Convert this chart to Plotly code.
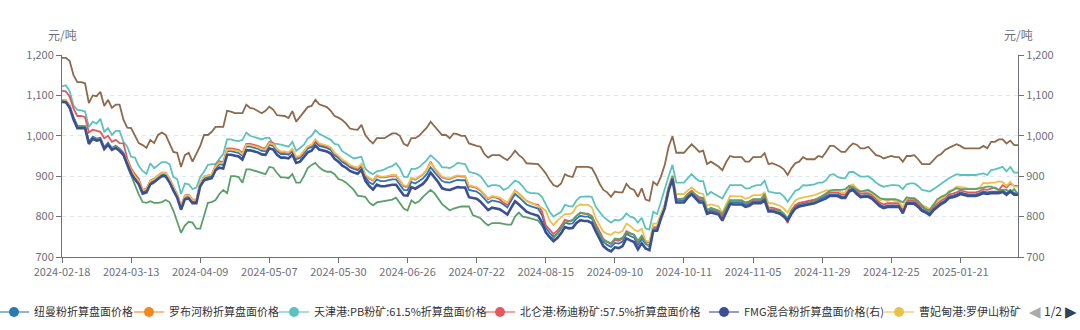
import pandas as pd
import plotly.graph_objects as go

# ---- calendar (Chinese working days incl. make-up days) ----
holidays = ["2024-04-04", "2024-04-05", "2024-05-01", "2024-05-02", "2024-05-03",
            "2024-06-10", "2024-09-16", "2024-09-17", "2024-10-01", "2024-10-02",
            "2024-10-03", "2024-10-04", "2024-10-07", "2025-01-01", "2025-01-28",
            "2025-01-29", "2025-01-30", "2025-01-31", "2025-02-03", "2025-02-04"]
makeup_days = ["2024-02-18", "2024-04-07", "2024-04-28", "2024-05-11", "2024-09-14",
               "2024-09-29", "2024-10-12", "2025-01-26", "2025-02-08"]
dates = []
for d in pd.date_range("2024-02-18", "2025-02-17"):
    s = d.strftime("%Y-%m-%d")
    if (d.weekday() < 5 and s not in holidays) or s in makeup_days:
        dates.append(s)

newman = [
    1089, 1088, 1075, 1045, 1024, 1024, 1024, 985, 998, 993,
    995, 972, 983, 970, 975, 968, 958, 935, 912, 897,
    885, 862, 865, 885, 890, 898, 905, 905, 890, 870,
    852, 822, 848, 850, 838, 838, 880, 895, 898, 900,
    920, 930, 928, 962, 962, 960, 958, 950, 973, 973,
    970, 968, 963, 962, 978, 975, 962, 955, 955, 953,
    962, 942, 945, 958, 968, 972, 985, 975, 972, 970,
    965, 952, 945, 935, 930, 922, 918, 915, 925, 898,
    885, 880, 892, 888, 888, 890, 892, 892, 880, 866,
    865, 886, 882, 888, 894, 905, 922, 910, 898, 888,
    885, 884, 888, 891, 890, 890, 866, 864, 862, 855,
    845, 834, 840, 838, 836, 830, 823, 840, 856, 848,
    840, 830, 826, 822, 820, 804, 772, 760, 750, 758,
    770, 785, 782, 783, 795, 802, 800, 800, 795, 775,
    755, 738, 730, 725, 735, 733, 738, 757, 752, 748,
    730, 745, 732, 728, 770, 770, 800, 826, 870, 898,
    840, 840, 840, 852, 860, 850, 840, 840, 812, 815,
    812, 810, 795, 815, 836, 835, 835, 835, 829, 832,
    838, 838, 838, 845, 818, 818, 815, 812, 805, 795,
    812, 825, 830, 832, 835, 837, 838, 842, 846, 850,
    855, 855, 855, 850, 850, 866, 870, 860, 852, 853,
    853, 848, 840, 830, 825, 828, 828, 828, 828, 812,
    836, 836, 836, 828, 818, 814, 808, 820, 828, 835,
    840, 850, 852, 855, 860, 858, 855, 855, 855, 858,
    862, 860, 862, 862, 862, 865, 858, 866, 858, 858]

robe_river = []  # no visible line in the reference

tianjin_pb = [
    1123, 1125, 1110, 1075, 1064, 1063, 1060, 1022, 1035, 1030,
    1042, 1010, 1019, 1002, 1012, 1012, 985, 973, 948, 946,
    925, 913, 906, 932, 920, 928, 935, 935, 930, 898,
    893, 856, 882, 880, 868, 872, 898, 911, 928, 930,
    930, 943, 955, 991, 991, 988, 987, 990, 1008, 1000,
    997, 993, 991, 995, 995, 980, 980, 978, 975, 973,
    985, 963, 970, 978, 993, 1000, 1014, 1005, 1000, 996,
    990, 980, 978, 962, 955, 950, 944, 946, 948, 919,
    910, 905, 912, 914, 917, 922, 925, 932, 920, 899,
    898, 918, 918, 922, 930, 940, 952, 944, 935, 922,
    922, 920, 925, 933, 932, 930, 911, 908, 906, 900,
    888, 874, 878, 878, 876, 866, 870, 880, 889, 885,
    875, 862, 858, 858, 857, 849, 830, 812, 800, 805,
    812, 829, 826, 825, 840, 849, 850, 850, 849, 825,
    812, 800, 792, 785, 792, 790, 795, 808, 800, 797,
    785, 797, 771, 768, 812, 806, 837, 870, 900, 928,
    884, 884, 884, 895, 905, 895, 888, 888, 853, 861,
    855, 851, 845, 862, 878, 878, 878, 878, 870, 870,
    875, 878, 878, 889, 862, 860, 858, 858, 850, 837,
    850, 864, 868, 878, 877, 878, 880, 884, 884, 890,
    903, 905, 898, 895, 895, 910, 911, 905, 899, 899,
    900, 893, 884, 878, 874, 876, 878, 878, 877, 868,
    880, 882, 882, 876, 866, 864, 862, 868, 875, 882,
    888, 895, 900, 905, 903, 903, 903, 903, 903, 905,
    907, 903, 915, 917, 920, 923, 912, 923, 909, 909]

beilun_yandi = [
    1111, 1110, 1097, 1067, 1049, 1049, 1046, 1008, 1015, 1012,
    1010, 994, 1000, 985, 990, 982, 981, 943, 920, 905,
    893, 866, 869, 889, 894, 902, 909, 909, 894, 874,
    856, 826, 852, 854, 842, 842, 884, 899, 902, 904,
    927, 937, 935, 969, 969, 967, 965, 957, 980, 980,
    977, 975, 970, 969, 985, 982, 966, 959, 959, 957,
    966, 946, 949, 962, 972, 976, 989, 979, 976, 974,
    969, 956, 949, 939, 934, 926, 922, 919, 929, 902,
    894, 889, 901, 897, 897, 899, 901, 901, 889, 875,
    874, 895, 891, 897, 904, 916, 936, 919, 907, 897,
    894, 893, 897, 900, 899, 899, 875, 873, 871, 864,
    854, 843, 849, 847, 843, 834, 829, 849, 865, 857,
    849, 839, 835, 831, 829, 813, 779, 767, 757, 765,
    777, 792, 789, 790, 802, 809, 807, 807, 802, 782,
    762, 745, 737, 732, 742, 740, 745, 764, 759, 755,
    737, 752, 739, 735, 774, 774, 804, 830, 874, 900,
    844, 844, 844, 856, 864, 854, 844, 844, 816, 819,
    816, 814, 799, 819, 840, 839, 839, 839, 833, 836,
    842, 842, 842, 849, 822, 822, 819, 816, 806, 784,
    816, 829, 834, 836, 839, 841, 842, 846, 850, 854,
    860, 860, 860, 855, 855, 871, 875, 865, 857, 858,
    858, 853, 845, 835, 830, 833, 833, 833, 833, 817,
    841, 841, 841, 833, 823, 819, 813, 825, 833, 840,
    845, 855, 857, 860, 865, 863, 860, 860, 860, 863,
    868, 866, 870, 872, 866, 878, 872, 882, 876, 876]

fmg_mix = [
    1084, 1083, 1070, 1040, 1019, 1019, 1019, 980, 993, 988,
    990, 967, 978, 965, 970, 963, 953, 930, 907, 892,
    880, 857, 860, 880, 885, 893, 900, 900, 885, 865,
    847, 817, 843, 845, 833, 833, 875, 890, 893, 895,
    915, 921, 919, 953, 953, 951, 949, 941, 964, 964,
    961, 959, 954, 953, 969, 966, 953, 946, 946, 944,
    953, 933, 936, 949, 959, 963, 976, 966, 963, 961,
    956, 943, 936, 926, 921, 913, 909, 906, 916, 889,
    876, 867, 879, 875, 875, 877, 879, 879, 867, 853,
    852, 873, 869, 875, 881, 892, 909, 897, 885, 870,
    867, 866, 870, 873, 872, 872, 848, 846, 844, 837,
    827, 816, 822, 820, 818, 812, 805, 822, 838, 830,
    822, 812, 808, 804, 802, 786, 761, 749, 739, 747,
    759, 774, 771, 772, 784, 791, 789, 789, 784, 764,
    744, 727, 719, 714, 724, 722, 727, 746, 741, 737,
    719, 734, 721, 717, 765, 765, 795, 821, 865, 893,
    835, 835, 835, 847, 855, 845, 835, 835, 807, 810,
    807, 805, 790, 810, 831, 830, 830, 830, 824, 827,
    833, 833, 833, 840, 813, 813, 810, 807, 800, 790,
    807, 820, 825, 827, 830, 832, 833, 837, 841, 845,
    851, 851, 851, 846, 846, 862, 866, 856, 848, 849,
    849, 844, 836, 826, 821, 824, 824, 824, 824, 808,
    832, 832, 832, 824, 814, 810, 804, 816, 824, 831,
    836, 846, 848, 851, 856, 854, 851, 851, 851, 854,
    858, 856, 858, 858, 858, 861, 854, 862, 854, 854]

caofeidian_roy = [
    1089, 1088, 1075, 1045, 1024, 1024, 1024, 982, 995, 990,
    992, 969, 980, 967, 972, 965, 955, 938, 915, 900,
    888, 865, 868, 888, 893, 901, 908, 908, 893, 873,
    855, 825, 851, 853, 841, 841, 884, 899, 902, 904,
    924, 934, 932, 966, 966, 964, 962, 954, 977, 977,
    974, 972, 967, 966, 982, 979, 968, 961, 961, 959,
    968, 948, 951, 964, 974, 978, 991, 981, 978, 976,
    971, 958, 951, 941, 936, 928, 924, 921, 931, 904,
    896, 891, 903, 899, 899, 901, 903, 903, 891, 877,
    876, 897, 893, 899, 905, 916, 933, 921, 909, 899,
    896, 895, 899, 902, 901, 901, 877, 875, 873, 866,
    856, 845, 851, 849, 847, 841, 834, 851, 864, 856,
    848, 838, 834, 830, 828, 822, 815, 790, 779, 790,
    798, 806, 806, 809, 825, 830, 829, 829, 823, 796,
    779, 763, 757, 755, 762, 760, 764, 783, 777, 768,
    763, 770, 740, 738, 783, 782, 808, 826, 874, 903,
    856, 856, 856, 865, 872, 864, 858, 856, 827, 830,
    827, 825, 810, 830, 851, 850, 850, 850, 844, 847,
    853, 853, 853, 860, 833, 833, 830, 827, 820, 810,
    827, 840, 845, 847, 850, 852, 853, 857, 861, 865,
    865, 865, 865, 860, 860, 876, 880, 870, 862, 863,
    863, 858, 850, 840, 843, 838, 843, 838, 838, 822,
    846, 846, 846, 838, 828, 824, 818, 830, 838, 845,
    850, 864, 866, 874, 873, 872, 869, 869, 869, 872,
    884, 882, 884, 884, 887, 886, 876, 886, 874, 874]

carajas = [
    1193, 1193, 1185, 1150, 1133, 1133, 1130, 1081, 1100, 1098,
    1109, 1074, 1089, 1069, 1077, 1077, 1040, 1020, 1019, 1000,
    982, 977, 970, 990, 982, 1002, 1008, 1002, 982, 960,
    958, 923, 952, 958, 936, 955, 975, 1002, 1002, 1010,
    1022, 1022, 1022, 1062, 1060, 1056, 1056, 1056, 1077, 1069,
    1067, 1062, 1056, 1062, 1072, 1065, 1051, 1050, 1049, 1044,
    1061, 1035, 1047, 1060, 1071, 1074, 1089, 1078, 1074, 1071,
    1062, 1049, 1045, 1039, 1030, 1018, 1016, 1015, 1027, 1002,
    990, 981, 994, 994, 994, 1000, 1006, 1006, 1000, 980,
    975, 994, 994, 1000, 1010, 1020, 1035, 1024, 1012, 1002,
    1002, 994, 1006, 1004, 1000, 1000, 981, 977, 975, 973,
    955, 946, 952, 952, 952, 945, 940, 950, 963, 952,
    945, 932, 931, 930, 930, 919, 907, 891, 878, 874,
    882, 905, 900, 898, 923, 923, 923, 923, 920, 903,
    882, 866, 860, 849, 862, 860, 860, 881, 870, 866,
    849, 870, 842, 839, 886, 878, 899, 928, 973, 999,
    958, 958, 958, 969, 979, 970, 960, 963, 930, 936,
    930, 924, 915, 935, 950, 947, 947, 947, 936, 936,
    947, 947, 947, 957, 930, 932, 928, 924, 917, 903,
    920, 932, 936, 947, 942, 942, 942, 950, 947, 960,
    975, 975, 968, 960, 960, 972, 981, 978, 969, 969,
    973, 962, 952, 950, 944, 947, 950, 947, 947, 936,
    950, 950, 952, 942, 930, 930, 930, 940, 950, 955,
    965, 970, 975, 979, 975, 969, 969, 969, 969, 969,
    975, 969, 985, 985, 991, 991, 981, 988, 977, 977]

super_special = [
    1085, 1084, 1068, 1044, 1025, 1024, 1024, 984, 995, 990,
    992, 970, 980, 966, 970, 962, 952, 925, 900, 878,
    855, 836, 834, 838, 834, 834, 836, 841, 836, 815,
    790, 760, 778, 787, 785, 770, 770, 805, 834, 836,
    841, 856, 866, 858, 900, 900, 898, 884, 917, 917,
    914, 911, 908, 905, 923, 921, 908, 897, 897, 895,
    905, 884, 884, 900, 920, 928, 933, 922, 915, 911,
    911, 905, 893, 890, 884, 875, 866, 852, 851, 849,
    835, 828, 835, 837, 838, 840, 842, 847, 833, 820,
    815, 840, 833, 838, 849, 858, 866, 858, 845, 831,
    823, 815, 820, 823, 825, 825, 825, 804, 800, 796,
    786, 778, 784, 784, 784, 782, 780, 780, 800, 810,
    800, 798, 796, 793, 790, 778, 763, 752, 746, 760,
    772, 785, 788, 792, 802, 810, 808, 805, 800, 775,
    758, 742, 738, 734, 746, 744, 748, 760, 758, 755,
    740, 752, 734, 725, 768, 770, 800, 820, 866, 900,
    841, 843, 846, 855, 862, 855, 848, 846, 816, 822,
    818, 815, 806, 825, 841, 841, 841, 841, 835, 838,
    843, 843, 843, 856, 816, 816, 816, 813, 808, 796,
    815, 823, 825, 828, 832, 835, 838, 845, 852, 859,
    864, 866, 866, 866, 868, 876, 872, 866, 862, 864,
    866, 860, 852, 846, 843, 843, 843, 843, 840, 835,
    848, 845, 845, 838, 828, 818, 816, 830, 843, 849,
    853, 860, 866, 870, 868, 868, 868, 868, 868, 870,
    872, 874, 874, 870, 866, 866, 866, 860, 868, 855]

x_tick_labels = ["2024-02-18", "2024-03-13", "2024-04-09", "2024-05-07", "2024-05-30",
                 "2024-06-26", "2024-07-22", "2024-08-15", "2024-09-10", "2024-10-11",
                 "2024-11-05", "2024-11-29", "2024-12-25", "2025-01-21"]

n = len(newman)
x = dates[:n]

# ---- figure geometry (pixels) ----
W, H = 1080, 330
ML, MR, MT, MB = 62, 62, 55, 73
PW, PH = W - ML - MR, H - MT - MB


def px_x(p):
    return (p - ML) / PW


def px_y(p):
    return (H - MB - p) / PH


fig = go.Figure()

series = [
    ("纽曼粉折算盘面价格", newman, "#2a78b4", "y", 1.8),
    ("天津港:PB粉矿:61.5%折算盘面价格", tianjin_pb, "#5cc2c0", "y", 1.8),
    ("北仑港:杨迪粉矿:57.5%折算盘面价格", beilun_yandi, "#e4585c", "y", 1.8),
    ("FMG混合粉折算盘面价格(右)", fmg_mix, "#3d4f93", "y2", 2.6),
    ("曹妃甸港:罗伊山粉矿", caofeidian_roy, "#e9c24e", "y", 1.8),
    ("卡粉折算盘面价格", carajas, "#8d6a4b", "y", 1.8),
    ("超特粉折算盘面价格", super_special, "#5b9f6b", "y", 1.8),
]
for name, vals, color, ax, w in series:
    fig.add_trace(go.Scatter(x=x, y=vals, name=name, mode="lines",
                             line=dict(color=color, width=w), yaxis=ax,
                             showlegend=False))

# legend (page 1 of 2 of the original paged legend)
legend_items = [
    ("纽曼粉折算盘面价格", "42,120,180", -6),
    ("罗布河粉折算盘面价格", "245,135,31", 129),
    ("天津港:PB粉矿:61.5%折算盘面价格", "92,194,192", 274),
    ("北仑港:杨迪粉矿:57.5%折算盘面价格", "228,88,92", 480),
    ("FMG混合粉折算盘面价格(右)", "61,79,147", 704),
    ("曹妃甸港:罗伊山粉矿", "233,194,78", 879),
]
layout_legends = {}
for k, (name, rgb, start) in enumerate(legend_items):
    key = "legend" if k == 0 else f"legend{k + 1}"
    yv = robe_river if name.startswith("罗布河") else []
    fig.add_trace(go.Scatter(x=[None], y=yv if yv else [None], name=name,
                             mode="lines+markers",
                             line=dict(color=f"rgba({rgb},0.55)", width=2),
                             marker=dict(color=f"rgb({rgb})", size=10),
                             legend=key, showlegend=True, hoverinfo="skip"))
    layout_legends[key] = dict(x=px_x(start), xanchor="left", y=px_y(312),
                               yanchor="middle", orientation="h",
                               bgcolor="rgba(0,0,0,0)",
                               font=dict(family="Noto Sans CJK SC", size=11, color="#333333"))

axis_col = "#6e7079"
fig.update_layout(
    width=W, height=H,
    margin=dict(l=ML, r=MR, t=MT, b=MB, pad=0, autoexpand=False),
    plot_bgcolor="white", paper_bgcolor="white",
    font=dict(family="Noto Sans CJK SC", size=11, color=axis_col),
    hovermode="x unified",
    xaxis=dict(type="category", range=[0, n - 1], tickmode="array",
               tickvals=x_tick_labels, ticktext=x_tick_labels,
               showgrid=False, showline=True, linecolor=axis_col, linewidth=1,
               ticks="outside", ticklen=5, tickcolor=axis_col,
               tickfont=dict(size=11, color=axis_col), zeroline=False),
    yaxis=dict(range=[700, 1200], dtick=100, tickformat=",",
               showline=True, linecolor=axis_col, linewidth=1,
               ticks="outside", ticklen=5, tickcolor=axis_col,
               showgrid=True, gridcolor="#e0e6f1", griddash="4px,4px",
               zeroline=False, tickfont=dict(size=11, color=axis_col)),
    yaxis2=dict(range=[700, 1200], dtick=100, tickformat=",",
                overlaying="y", side="right",
                showline=True, linecolor=axis_col, linewidth=1,
                ticks="outside", ticklen=5, tickcolor=axis_col,
                showgrid=False, zeroline=False,
                tickfont=dict(size=11, color=axis_col)),
    **layout_legends,
)

ann = [
    dict(text="元/吨", x=0, y=px_y(35), xref="paper", yref="paper",
         xanchor="center", yanchor="middle", showarrow=False,
         font=dict(size=12, color=axis_col)),
    dict(text="元/吨", x=1, y=px_y(35), xref="paper", yref="paper",
         xanchor="center", yanchor="middle", showarrow=False,
         font=dict(size=12, color=axis_col)),
    dict(text="◀", x=px_x(1035), y=px_y(312), xref="paper", yref="paper",
         xanchor="center", yanchor="middle", showarrow=False,
         font=dict(family="DejaVu Sans", size=15, color="#aaaaaa")),
    dict(text="1/2", x=px_x(1053), y=px_y(310), xref="paper", yref="paper",
         xanchor="center", yanchor="middle", showarrow=False,
         font=dict(size=12, color="#333333")),
    dict(text="▶", x=px_x(1071), y=px_y(312), xref="paper", yref="paper",
         xanchor="center", yanchor="middle", showarrow=False,
         font=dict(family="DejaVu Sans", size=15, color="#2f4554")),
]
fig.update_layout(annotations=ann)

fig.write_html("out.html")
